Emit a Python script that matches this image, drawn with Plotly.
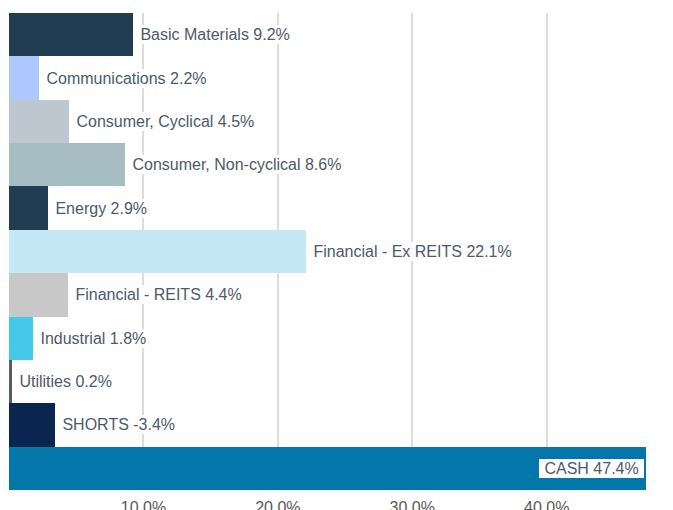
import plotly.graph_objects as go

categories = ["Basic Materials", "Communications", "Consumer, Cyclical",
              "Consumer, Non-cyclical", "Energy", "Financial - Ex REITS",
              "Financial - REITS", "Industrial", "Utilities", "SHORTS", "CASH"]
values = [9.2, 2.2, 4.5, 8.6, 2.9, 22.1, 4.4, 1.8, 0.2, -3.4, 47.4]
colors = ["#213d52", "#adc8fc", "#bcc7cf", "#a6bec3", "#213d52", "#c4e8f6",
          "#c8c8c8", "#46c8e9", "#545b6a", "#0a2550", "#0576aa"]
tick_vals = [10, 20, 30, 40]
tick_text = ["10.0%", "20.0%", "30.0%", "40.0%"]

lengths = [abs(v) for v in values]

fig = go.Figure(go.Bar(
    x=lengths, y=categories, orientation="h",
    marker=dict(color=colors, line=dict(width=0)),
    hoverinfo="skip",
))

nb = "\u00a0"
annotations = []
for i, (c, v) in enumerate(zip(categories, values)):
    label = f"{nb}{c} {v:.1f}%{nb}"
    inside = (c == "CASH")
    annotations.append(dict(
        x=abs(v), y=c, xref="x", yref="y", text=label, showarrow=False,
        xanchor="right" if inside else "left",
        xshift=-2 if inside else 2,
        bgcolor="white", borderpad=1, borderwidth=0,
        font=dict(family="Liberation Sans, Arial, sans-serif", size=16,
                  color="#4c5a6b"),
    ))

fig.update_layout(
    width=673, height=510,
    margin=dict(l=9, r=12, t=13, b=20),
    paper_bgcolor="white", plot_bgcolor="white",
    bargap=0, showlegend=False,
    annotations=annotations,
    xaxis=dict(range=[0, 48.5], tickvals=tick_vals, ticktext=tick_text,
               showgrid=True, gridcolor="#dcdcdc", gridwidth=2,
               zeroline=False, showline=False, ticks="", automargin=False,
               ticklabelstandoff=6,
               tickfont=dict(family="Liberation Sans, Arial, sans-serif",
                             size=16, color="#595959")),
    yaxis=dict(categoryorder="array", categoryarray=categories,
               autorange="reversed", showticklabels=False, showgrid=False,
               zeroline=False, showline=False, ticks="", automargin=False),
)

fig.write_html("out.html")
